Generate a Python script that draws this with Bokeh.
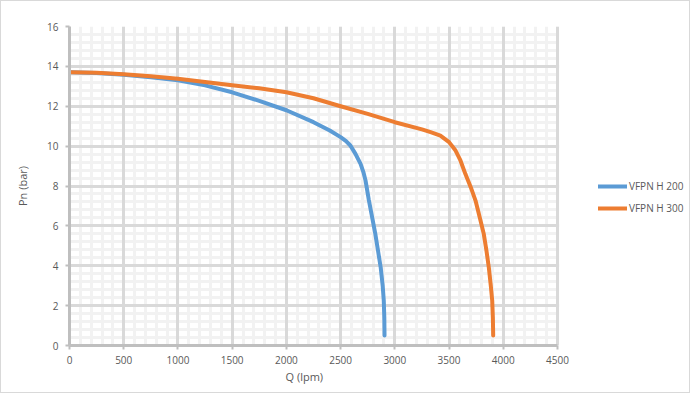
from bokeh.plotting import figure
from bokeh.models import (Range1d, SingleIntervalTicker, Legend, LegendItem, BoxAnnotation,
                          Title, Grid)
from bokeh.embed import file_html
from bokeh.resources import INLINE

# Data
q_h200 = [0, 250, 500, 750, 1000, 1250, 1500, 1750, 2000, 2250, 2400, 2500, 2550, 2590,
          2637, 2684, 2710, 2730, 2760, 2790, 2820, 2845, 2870, 2888, 2898, 2903, 2905]
p_h200 = [13.7, 13.67, 13.58, 13.45, 13.3, 13.05, 12.7, 12.27, 11.8, 11.2, 10.78, 10.45,
          10.25, 10.03, 9.61, 9.11, 8.7, 8.27, 7.3, 6.45, 5.6, 4.75, 3.9, 3.0, 2.25, 1.4, 0.5]

q_h300 = [0, 250, 500, 750, 1000, 1250, 1500, 1750, 2000, 2250, 2500, 2750, 3000, 3250,
          3330, 3420, 3500, 3560, 3605, 3650, 3700, 3744, 3782, 3820, 3845,
          3867, 3885, 3898, 3904, 3907]
p_h300 = [13.7, 13.68, 13.6, 13.5, 13.38, 13.22, 13.05, 12.9, 12.7, 12.4, 12.0, 11.62,
          11.2, 10.84, 10.7, 10.53, 10.2, 9.78, 9.28, 8.61, 7.94, 7.27, 6.45, 5.6,
          4.75, 3.9, 3.0, 2.25, 1.4, 0.5]

series_names = ["VFPN H 200", "VFPN H 300"]
series_colors = ["#5b9bd5", "#ed7d31"]

x_label = "Q (lpm)"
y_label = "Pn (bar)"

x_min, x_max = 0, 4500
y_min, y_max = 0, 16

FONT = "Open Sans"
TXT = "#595959"

# frame spans to the right edge so the legend can sit there; axis/grid bounded at x_max
frame_px = 690 - 68
data_px = 488
x_view_end = x_max * frame_px / data_px

p = figure(width=690, height=393, output_backend="svg", toolbar_location=None,
           x_range=Range1d(x_min, x_view_end), y_range=Range1d(y_min, y_max),
           min_border_left=68, min_border_right=0, min_border_top=25, min_border_bottom=49,
           styles={"border": "1px solid #d9d9d9"})
p.outline_line_color = None
p.background_fill_color = "white"
p.border_fill_color = "white"

xtick = SingleIntervalTicker(interval=500, num_minor_ticks=5)
ytick = SingleIntervalTicker(interval=2, num_minor_ticks=5)
p.xaxis.ticker = xtick
p.yaxis.ticker = ytick
p.xaxis.bounds = (x_min, x_max)
p.xgrid.bounds = (x_min, x_max)

# default grids: minor lines only
for g in (p.xgrid, p.ygrid):
    g.grid_line_color = None
    g.minor_grid_line_color = "#f2f2f2"
    g.minor_grid_line_width = 3
    g.level = "underlay"

# major grids drawn on top of all minor lines
gx = Grid(dimension=0, ticker=xtick, bounds=(x_min, x_max), grid_line_color="#d9d9d9",
          grid_line_width=3, level="underlay")
gy = Grid(dimension=1, ticker=ytick, grid_line_color="#d9d9d9",
          grid_line_width=3, level="underlay")
p.add_layout(gx)
p.add_layout(gy)

for ax in (p.xaxis, p.yaxis):
    ax.axis_line_color = "#bfbfbf"
    ax.axis_line_width = 3
    ax.major_tick_line_color = "#bfbfbf"
    ax.major_tick_line_width = 2
    ax.major_tick_out = 4
    ax.major_tick_in = 0
    ax.minor_tick_line_color = None
    ax.major_label_text_font = FONT
    ax.major_label_text_font_size = "10px"
    ax.major_label_text_color = TXT
    ax.axis_label_text_font = FONT
    ax.axis_label_text_font_size = "11px"
    ax.axis_label_text_color = TXT
    ax.axis_label_text_font_style = "normal"

p.yaxis.axis_label = y_label
p.xaxis.major_label_standoff = 6
p.yaxis.major_label_standoff = 7
p.yaxis.axis_label_standoff = 14

# x-axis title placed under the bounded axis (0..4500)
xt = Title(text=x_label, align="left", offset=216, standoff=0,
           text_font=FONT, text_font_size="11px", text_color=TXT, text_font_style="normal")
p.add_layout(xt, "below")

# blank out grid beyond the x-axis end (legend area)
cover = BoxAnnotation(left=x_max + 1.6 * x_max / data_px, fill_color="white", fill_alpha=1,
                      line_color=None, level="glyph")
p.add_layout(cover)

r1 = p.line(q_h200, p_h200, line_color=series_colors[0], line_width=4,
            line_cap="round", line_join="round")
r2 = p.line(q_h300, p_h300, line_color=series_colors[1], line_width=4,
            line_cap="round", line_join="round")

legend = Legend(items=[LegendItem(label=series_names[0], renderers=[r1]),
                       LegendItem(label=series_names[1], renderers=[r2])],
                location=(529, 127), padding=0, margin=0, spacing=2,
                glyph_width=29, glyph_height=20, label_height=20, label_standoff=2,
                label_text_font=FONT, label_text_font_size="10px", label_text_color=TXT,
                border_line_color=None, background_fill_alpha=0)
p.add_layout(legend, "center")

open("out.html", "w").write(file_html(p, INLINE))
